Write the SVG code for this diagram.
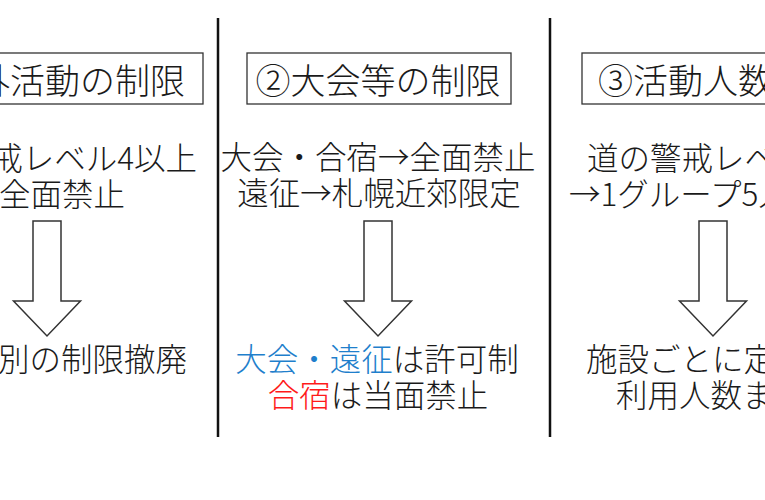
<svg xmlns="http://www.w3.org/2000/svg" width="765" height="500" viewBox="0 0 765 500">
<style>
text{font-family:"Noto Sans CJK JP","Noto Sans CJK SC",sans-serif;font-weight:300;fill:#1a1a1a;dominant-baseline:central}
.t{font-size:35px}
.b{font-size:31.5px}
.m{text-anchor:middle}
.e{text-anchor:end}
.box{fill:#fff;stroke:#333;stroke-width:1.3}
.arr{fill:#fff;stroke:#333;stroke-width:1.5;stroke-linejoin:miter}
.div{stroke:#111;stroke-width:2.5}
.blue{fill:#1f7fcc}
.red{fill:#ff1a1a}
</style>
<rect width="765" height="500" fill="#fff"/>
<defs>
<path id="arrow" d="M-14,0 H14 V80 H33.5 L0,115 L-33.5,80 H-14 Z"/>
</defs>
<g id="dividers">
<line class="div" x1="218" y1="18" x2="218" y2="437"/>
<line class="div" x1="550" y1="18" x2="550" y2="437"/>
</g>
<g id="col1">
<rect class="box" x="-61" y="53" width="264" height="51"/>
<text class="t e" x="185" y="78">①校外活動の制限</text>
<text class="b e" x="197" y="156">道の警戒レベル4以上</text>
<text class="b e" x="125" y="192">全面禁止</text>
<use href="#arrow" class="arr" x="47" y="221"/>
<text class="b e" x="187" y="357">地域別の制限撤廃</text>
</g>
<g id="col2">
<rect class="box" x="247" y="53" width="264" height="51"/>
<text class="t m" x="378" y="78">②大会等の制限</text>
<text class="b m" x="378" y="155">大会・合宿→全面禁止</text>
<text class="b m" x="379" y="191">遠征→札幌近郊限定</text>
<use href="#arrow" class="arr" x="378" y="221"/>
<text class="b m" x="377" y="357"><tspan class="blue">大会・遠征</tspan>は許可制</text>
<text class="b m" x="378" y="393"><tspan class="red">合宿</tspan>は当面禁止</text>
</g>
<g id="col3">
<rect class="box" x="582" y="53" width="264" height="51"/>
<text class="t" x="598" y="78">③活動人数の制限</text>
<text class="b" x="587" y="156">道の警戒レベル4以上</text>
<text class="b" x="569" y="192">→1グループ5人まで</text>
<use href="#arrow" class="arr" x="713" y="221"/>
<text class="b" x="586" y="357">施設ごとに定める</text>
<text class="b" x="616" y="393">利用人数まで</text>
</g>
</svg>
